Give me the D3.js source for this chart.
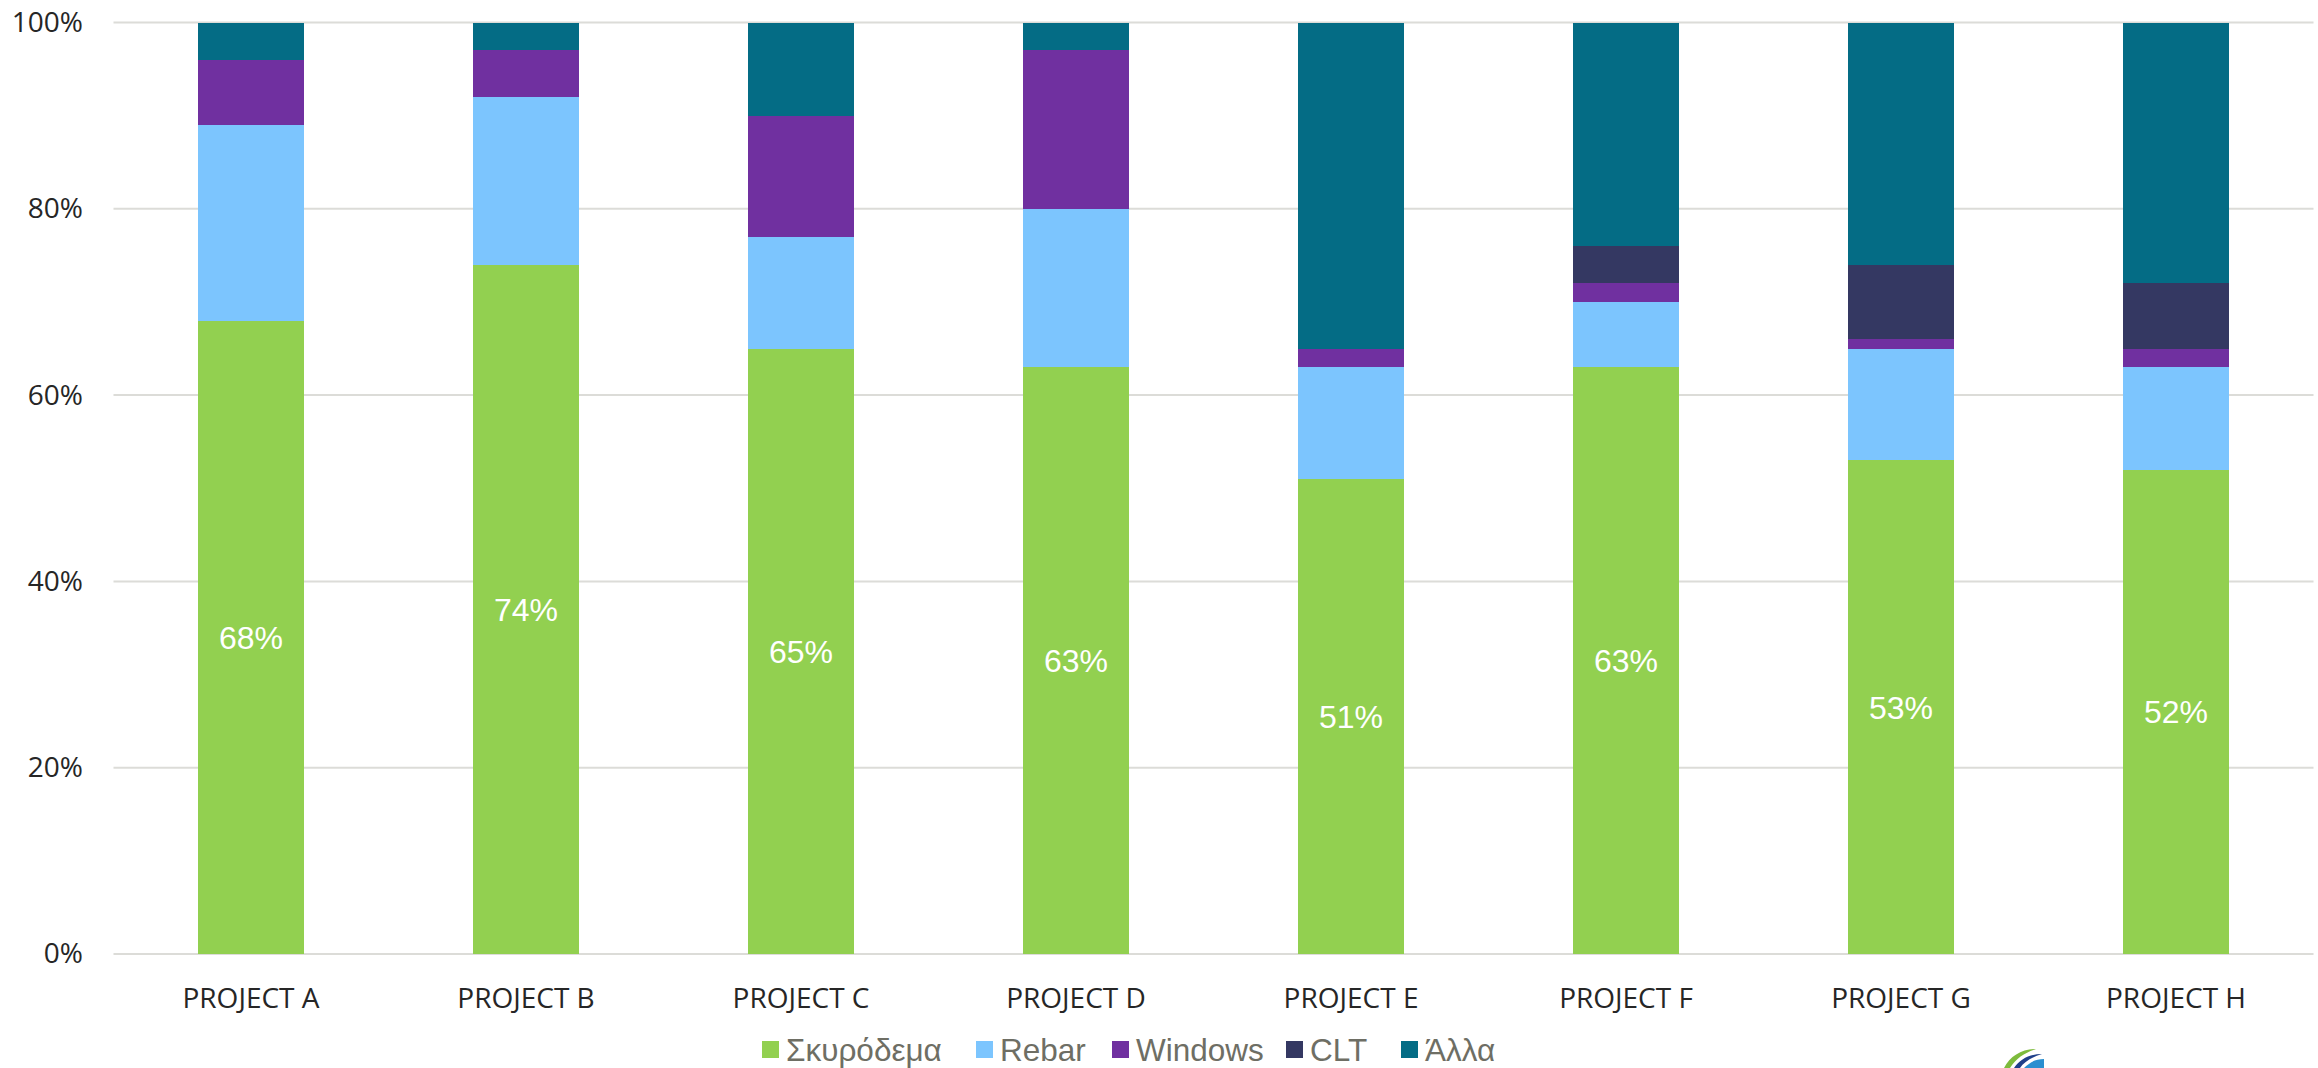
<!DOCTYPE html>
<html>
<head>
<meta charset="utf-8">
<script src="https://cdn.jsdelivr.net/npm/d3@7"></script>
<style>
  html, body { margin: 0; padding: 0; background: #ffffff; }
  svg { display: block; }
</style>
</head>
<body>
<svg id="chart" width="2318" height="1068"></svg>
<script>
const categories = ["PROJECT A", "PROJECT B", "PROJECT C", "PROJECT D", "PROJECT E", "PROJECT F", "PROJECT G", "PROJECT H"];
const seriesNames = ["Σκυρόδεμα", "Rebar", "Windows", "CLT", "Άλλα"];
const concrete = [68, 74, 65, 63, 51, 63, 53, 52];
const rebar    = [21, 18, 12, 17, 12,  7, 12, 11];
const windows  = [ 7,  5, 13, 17,  2,  2,  1,  2];
const clt      = [ 0,  0,  0,  0,  0,  4,  8,  7];
const other    = [ 4,  3, 10,  3, 35, 24, 26, 28];
const yTicks = [0, 20, 40, 60, 80, 100];
const colors = ["#92D050", "#7CC5FE", "#7030A0", "#343862", "#046C85"];

const seriesValues = [concrete, rebar, windows, clt, other];
const table = categories.map((c, i) => {
  const row = { category: c };
  seriesNames.forEach((s, k) => { row[s] = seriesValues[k][i]; });
  return row;
});

const svg = d3.select("#chart");
const margin = { left: 113.5, right: 4.5, top: 22.5, bottom: 114 };
const W = 2318, H = 1068;
const x = d3.scaleBand().domain(categories)
  .range([margin.left, W - margin.right])
  .paddingInner(0.615).paddingOuter(0.3075);
const y = d3.scaleLinear().domain([0, 100]).range([H - margin.bottom, margin.top]);

// gridlines
svg.append("g").selectAll("line").data(yTicks).join("line")
  .attr("x1", margin.left).attr("x2", W - margin.right)
  .attr("y1", d => y(d)).attr("y2", d => y(d))
  .attr("stroke", "#dcdcd8").attr("stroke-width", 2);

// y axis labels
const yAxis = d3.axisLeft(y).tickValues(yTicks).tickFormat(d => d + "%").tickSize(0).tickPadding(0);
const yg = svg.append("g").attr("transform", `translate(${83},0)`).call(yAxis);
yg.select(".domain").remove();
yg.selectAll("text")
  .attr("font-family", "'Open Sans', 'Noto Sans', sans-serif")
  .attr("font-size", 28).attr("fill", "#262626");

// stacked bars
const stack = d3.stack().keys(seriesNames);
const stacked = stack(table);
const layers = svg.append("g").selectAll("g").data(stacked).join("g")
  .attr("fill", (d, i) => colors[i]);
layers.selectAll("rect").data(d => d).join("rect")
  .attr("x", d => x(d.data.category))
  .attr("width", x.bandwidth())
  .attr("y", d => y(d[1]))
  .attr("height", d => Math.max(0, y(d[0]) - y(d[1])))
  .attr("shape-rendering", "crispEdges");

// data labels on concrete series
svg.append("g").selectAll("text").data(stacked[0]).join("text")
  .attr("x", d => x(d.data.category) + x.bandwidth() / 2)
  .attr("y", d => (y(d[0]) + y(d[1])) / 2)
  .attr("dy", "0.36em")
  .attr("text-anchor", "middle")
  .attr("font-family", "'Liberation Sans', Arial, sans-serif")
  .attr("font-size", 32)
  .attr("fill", "#ffffff")
  .text(d => d.data["Σκυρόδεμα"] + "%");

// x axis labels
const xAxis = d3.axisBottom(x).tickSize(0).tickPadding(0);
const xg = svg.append("g").attr("transform", `translate(0,${1008})`).call(xAxis);
xg.select(".domain").remove();
xg.selectAll("text")
  .attr("dy", 0)
  .attr("font-family", "'Open Sans', 'Noto Sans', sans-serif")
  .attr("font-size", 28).attr("fill", "#262626");

// legend
const legendX = [762, 976, 1112, 1286, 1401];
const legend = svg.append("g").selectAll("g").data(seriesNames).join("g")
  .attr("transform", (d, i) => `translate(${legendX[i]},${1041})`);
legend.append("rect").attr("width", 17).attr("height", 17)
  .attr("fill", (d, i) => colors[i]);
legend.append("text")
  .attr("x", 24).attr("y", 20)
  .attr("font-family", "'Liberation Sans', Arial, sans-serif")
  .attr("font-size", 31.5).attr("fill", "#6e6e64")
  .text(d => d);

// partial logo (decorative, cut off at bottom edge)
const logo = svg.append("g").attr("transform", "translate(2000,1068)");
logo.append("path").attr("d", "M4,0 C10,-12 22,-19 36,-19 C26,-16 16,-10 10,0 Z").attr("fill", "#7dbb3c");
logo.append("path").attr("d", "M14,0 C20,-9 30,-14 42,-14 C32,-11 24,-6 20,0 Z").attr("fill", "#1f3f8a");
logo.append("path").attr("d", "M24,0 C30,-6 36,-9 44,-9 L44,0 Z").attr("fill", "#2a8fd0");
</script>
</body>
</html>
